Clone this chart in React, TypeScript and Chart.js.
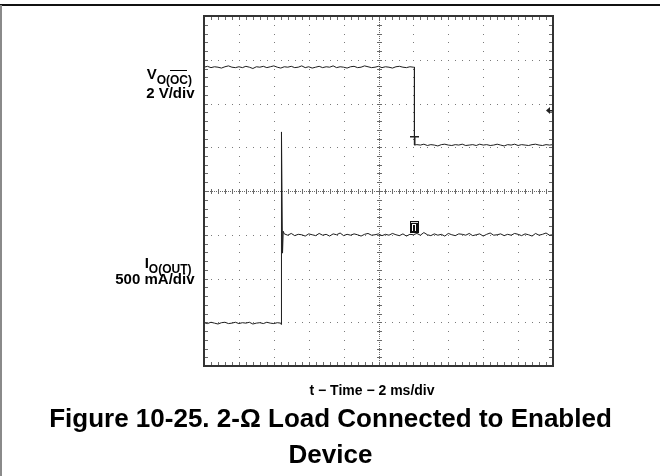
import React, { useEffect, useRef } from 'react';
import { Chart, registerables } from 'chart.js';

Chart.register(...registerables);

// ---- data (divisions on the scope screen) ----
const sampleTime = [
  0, 0.1, 0.2, 0.3, 0.4, 0.5, 0.6, 0.7, 0.8, 0.9,
  1, 1.1, 1.2, 1.3, 1.4, 1.5, 1.6, 1.7, 1.8, 1.9,
  2, 2.1, 2.2, 2.3, 2.4, 2.5, 2.6, 2.7, 2.8, 2.9,
  3, 3.1, 3.2, 3.3, 3.4, 3.5, 3.6, 3.7, 3.8, 3.9,
  4, 4.1, 4.2, 4.3, 4.4, 4.5, 4.6, 4.7, 4.8, 4.9,
  5, 5.1, 5.2, 5.3, 5.4, 5.5, 5.6, 5.7, 5.8, 5.9,
  6, 6.1, 6.2, 6.3, 6.4, 6.5, 6.6, 6.7, 6.8, 6.9,
  7, 7.1, 7.2, 7.3, 7.4, 7.5, 7.6, 7.7, 7.8, 7.9,
  8, 8.1, 8.2, 8.3, 8.4, 8.5, 8.6, 8.7, 8.8, 8.9,
  9, 9.1, 9.2, 9.3, 9.4, 9.5, 9.6, 9.7, 9.8, 9.9,
  10,
];

const vocLevel = [
  6.83, 6.85, 6.82, 6.84, 6.83, 6.81, 6.84, 6.86, 6.83, 6.82,
  6.84, 6.82, 6.85, 6.83, 6.80, 6.84, 6.83, 6.85, 6.82, 6.84,
  6.86, 6.83, 6.81, 6.84, 6.83, 6.85, 6.82, 6.83, 6.86, 6.82,
  6.84, 6.81, 6.83, 6.85, 6.82, 6.84, 6.83, 6.86, 6.82, 6.84,
  6.83, 6.81, 6.84, 6.85, 6.82, 6.83, 6.86, 6.84, 6.82, 6.83,
  6.85, 6.82, 6.84, 6.83, 6.81, 6.84, 6.85, 6.83, 6.82, 6.84,
  6.83,
  5.06, 5.05, 5.07, 5.04, 5.06, 5.05, 5.03, 5.06, 5.07,
  5.05, 5.04, 5.06, 5.05, 5.07, 5.04, 5.05, 5.06, 5.04, 5.07,
  5.05, 5.06, 5.04, 5.05, 5.07, 5.05, 5.03, 5.06, 5.05, 5.07,
  5.04, 5.06, 5.05, 5.04, 5.06, 5.07, 5.05, 5.04, 5.06, 5.05,
  5.06,
];

const ioutLevel = [
  0.99, 0.97, 1.00, 0.98, 0.96, 0.99, 1.00, 0.97, 0.98, 1.00,
  0.97, 0.99, 0.98, 1.00, 0.96, 0.98, 0.99, 0.97, 1.00, 0.98,
  0.97, 0.99, 0.98,
  3.02, 2.99, 3.03, 2.98, 3.01, 3.00, 2.97,
  3.02, 3.00, 2.98, 3.03, 2.99, 3.01, 2.97, 3.02, 3.00, 3.04,
  2.98, 3.01, 2.99, 3.02, 3.00, 2.97, 3.01, 3.03, 2.99, 3.00,
  3.02, 2.98, 3.01, 2.99, 3.03, 3.00, 2.98, 3.02, 2.97, 3.01,
  3.00, 3.03, 2.99, 3.05, 3.00, 2.98, 3.02, 2.99, 3.01, 2.97,
  3.03, 3.00, 2.98, 3.02, 3.01, 2.99, 3.03, 2.98, 3.00, 3.02,
  2.97, 3.01, 3.04, 2.99, 3.00, 3.02, 2.98, 3.01, 2.99, 3.03,
  3.01, 2.98, 3.02, 3.00, 2.97, 3.03, 2.99, 3.01, 3.04, 2.99,
  3.00,
];

// switching edges
const vocEdgeTime = [6.03, 6.03];
const vocEdgeLevel = [6.83, 5.05];
const ioutEdgeTime = [2.21, 2.22, 2.25, 2.27];
const ioutEdgeLevel = [0.95, 5.35, 2.58, 3.08];

// scope screen
const xDivisions = [0, 1, 2, 3, 4, 5, 6, 7, 8, 9, 10];
const yDivisions = [0, 1, 2, 3, 4, 5, 6, 7, 8];
const minorPerDiv = 5;

// scope markers [time, level]
const triggerPosMark = [6.03, 5.26];
const triggerLevelMark = [10, 5.86];
const ch1Mark = [6.03, 3.17];

const FONT = 'Arial, "Liberation Sans", Helvetica, sans-serif';

function buildTrace(times: number[], levels: number[], et: number[], el: number[]) {
  const pts = times.map((t, i) => ({ x: t, y: levels[i] }));
  et.forEach((t, i) => pts.push({ x: t, y: el[i] }));
  return pts.sort((a, b) => a.x - b.x);
}

const scopePlugin = {
  id: 'scope',
  beforeDraw(chart: any) {
    const ctx = chart.ctx;
    ctx.save();
    ctx.fillStyle = '#ffffff';
    ctx.fillRect(0, 0, chart.width, chart.height);
    ctx.fillStyle = '#111';
    ctx.fillRect(0, 4, 660, 2);
    ctx.fillStyle = '#8a8a8a';
    ctx.fillRect(0, 5, 2, chart.height - 5);
    ctx.restore();
  },
  beforeDatasetsDraw(chart: any) {
    const { ctx, chartArea, scales } = chart;
    const { left, right, top, bottom } = chartArea;
    const xs = scales.x;
    const ys = scales.y;
    const xMax = xDivisions[xDivisions.length - 1];
    const yMax = yDivisions[yDivisions.length - 1];
    const xMid = xMax / 2;
    const yMid = yMax / 2;
    ctx.save();
    // dotted division lines
    ctx.fillStyle = '#7a7a7a';
    xDivisions.forEach((d) => {
      if (d === 0 || d === xMax || d === xMid) return;
      const px = Math.round(xs.getPixelForValue(d));
      for (let k = 1; k < yMax * minorPerDiv; k++) {
        const py = Math.round(ys.getPixelForValue(k / minorPerDiv));
        ctx.fillRect(px, py, 1, 1);
      }
    });
    yDivisions.forEach((d) => {
      if (d === 0 || d === yMax || d === yMid) return;
      const py = Math.round(ys.getPixelForValue(d));
      for (let k = 1; k < xMax * minorPerDiv; k++) {
        const px = Math.round(xs.getPixelForValue(k / minorPerDiv));
        ctx.fillRect(px, py, 1, 1);
      }
    });
    // center axes with minor ticks
    const cx = Math.round(xs.getPixelForValue(xMid));
    const cy = Math.round(ys.getPixelForValue(yMid));
    ctx.fillStyle = '#6a6a6a';
    for (let px = left; px < right; px += 2) ctx.fillRect(px, cy, 1, 1);
    for (let py = top; py < bottom; py += 2) ctx.fillRect(cx, py, 1, 1);
    for (let k = 1; k < xMax * minorPerDiv; k++) {
      const px = Math.round(xs.getPixelForValue(k / minorPerDiv));
      ctx.fillRect(px, cy - 2, 1, 5);
      ctx.fillRect(px, top + 1, 1, 3);
      ctx.fillRect(px, bottom - 4, 1, 3);
    }
    for (let k = 1; k < yMax * minorPerDiv; k++) {
      const py = Math.round(ys.getPixelForValue(k / minorPerDiv));
      ctx.fillRect(cx - 2, py, 5, 1);
      ctx.fillRect(left + 1, py, 3, 1);
      ctx.fillRect(right - 4, py, 3, 1);
    }
    ctx.restore();
  },
  afterDatasetsDraw(chart: any) {
    const { ctx, chartArea, scales } = chart;
    const { left, right, top, bottom } = chartArea;
    const xs = scales.x;
    const ys = scales.y;
    ctx.save();
    // border
    ctx.strokeStyle = '#333';
    ctx.lineWidth = 2;
    ctx.strokeRect(left, top, right - left, bottom - top);
    // trigger position "T"
    ctx.fillStyle = '#222';
    const tx = Math.round(xs.getPixelForValue(triggerPosMark[0]));
    const ty = Math.round(ys.getPixelForValue(triggerPosMark[1]));
    const tLow = Math.round(ys.getPixelForValue(vocEdgeLevel[1]));
    ctx.fillRect(tx - 4, ty, 9, 1.5);
    ctx.fillRect(tx, ty, 1.5, tLow - ty);
    // trigger level arrow at right edge
    const ax = xs.getPixelForValue(triggerLevelMark[0]);
    const ay = Math.round(ys.getPixelForValue(triggerLevelMark[1])) + 0.5;
    ctx.beginPath();
    ctx.moveTo(ax - 7, ay);
    ctx.lineTo(ax - 3, ay - 3.5);
    ctx.lineTo(ax - 3, ay + 3.5);
    ctx.closePath();
    ctx.fill();
    ctx.fillRect(ax - 5, ay - 0.5, 5, 1.5);
    // channel 1 marker
    const mx = Math.round(xs.getPixelForValue(ch1Mark[0]));
    const my = Math.round(ys.getPixelForValue(ch1Mark[1]));
    ctx.fillStyle = '#111';
    ctx.fillRect(mx - 4, my - 6, 9, 12);
    ctx.fillStyle = '#ddd';
    ctx.fillRect(mx - 3, my - 5, 7, 1);
    ctx.fillStyle = '#fff';
    ctx.fillRect(mx - 2, my - 3, 1, 7);
    ctx.fillRect(mx + 1, my - 3, 1, 7);
    ctx.fillRect(mx - 2, my - 3, 4, 1);
    ctx.restore();
  },
};

function Line(props: { baseline: number; size: number; right?: number; center?: number; children: any }) {
  const { baseline, size, right, center, children } = props;
  const top = baseline - size * 0.8465;
  const style: any = {
    position: 'absolute',
    top,
    lineHeight: `${size}px`,
    fontSize: size,
    fontWeight: 'bold',
    whiteSpace: 'nowrap',
    margin: 0,
  };
  if (right !== undefined) {
    style.right = 661 - right;
    style.textAlign = 'right';
  } else if (center !== undefined) {
    style.left = center - 330;
    style.width = 660;
    style.textAlign = 'center';
  }
  return <div style={style}>{children}</div>;
}

const subStyle: any = { fontSize: 12, position: 'relative', top: 5 };
const overStyle: any = { position: 'relative' };
const overLine: any = { position: 'absolute', left: 0, right: 1, top: -3, borderTop: '1.3px solid #000' };

export default function App() {
  const ref = useRef<HTMLCanvasElement | null>(null);

  useEffect(() => {
    if (!ref.current) return;
    const chart = new Chart(ref.current, {
      type: 'scatter',
      data: {
        datasets: [
          {
            label: 'VO(OC)',
            data: buildTrace(sampleTime, vocLevel, vocEdgeTime, vocEdgeLevel),
            showLine: true,
            borderColor: '#1e1e1e',
            borderWidth: 1,
            pointRadius: 0,
            tension: 0,
          },
          {
            label: 'IO(OUT)',
            data: buildTrace(sampleTime, ioutLevel, ioutEdgeTime, ioutEdgeLevel),
            showLine: true,
            borderColor: '#1e1e1e',
            borderWidth: 1,
            pointRadius: 0,
            tension: 0,
          },
        ],
      },
      options: {
        animation: false,
        responsive: false,
        devicePixelRatio: 1,
        events: [],
        layout: { padding: { left: 204, top: 16, right: 108, bottom: 110 } },
        scales: {
          x: { type: 'linear', min: xDivisions[0], max: xDivisions[xDivisions.length - 1], display: false },
          y: { type: 'linear', min: yDivisions[0], max: yDivisions[yDivisions.length - 1], display: false },
        },
        plugins: { legend: { display: false }, tooltip: { enabled: false }, title: { display: false } },
      },
      plugins: [scopePlugin],
    } as any);
    return () => chart.destroy();
  }, []);

  return (
    <div style={{ position: 'absolute', left: 0, top: 0, width: 661, height: 476, background: '#fff', fontFamily: FONT, color: '#000', overflow: 'hidden' }}>
      <canvas ref={ref} width={661} height={476} style={{ position: 'absolute', left: 0, top: 0 }} />
      <Line baseline={79} size={15} right={192}>
        V<span style={subStyle}>O(<span style={overStyle}>OC<span style={overLine} /></span>)</span>
      </Line>
      <Line baseline={98} size={15} right={194.5}>2 V/div</Line>
      <Line baseline={268} size={15} right={191.5}>
        I<span style={subStyle}>O(OUT)</span>
      </Line>
      <Line baseline={284} size={15} right={194.5}>500 mA/div</Line>
      <Line baseline={395} size={14} center={372}>t − Time − 2 ms/div</Line>
      <Line baseline={427} size={26} center={330.5}>Figure 10-25. 2-Ω Load Connected to Enabled</Line>
      <Line baseline={463} size={26} center={330.5}>Device</Line>
    </div>
  );
}
